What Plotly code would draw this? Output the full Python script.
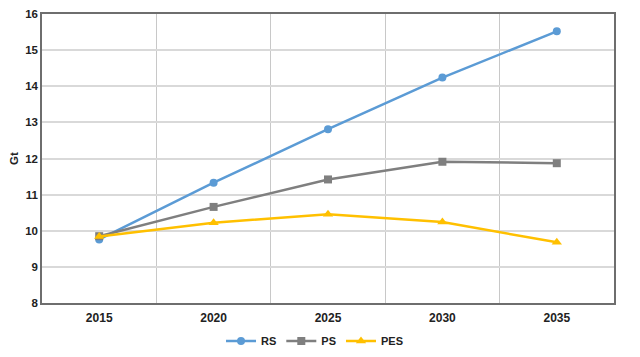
import plotly.graph_objects as go

years = ["2015", "2020", "2025", "2030", "2035"]
rs = [9.76, 11.33, 12.81, 14.24, 15.52]
ps = [9.85, 10.66, 11.42, 11.91, 11.87]
pes = [9.84, 10.22, 10.46, 10.24, 9.68]

fig = go.Figure()
fig.add_trace(go.Scatter(x=years, y=rs, name="<b>RS</b>", mode="lines+markers",
                         line=dict(color="#5B9BD5", width=2.5),
                         marker=dict(symbol="circle", size=8, color="#5B9BD5")))
fig.add_trace(go.Scatter(x=years, y=ps, name="<b>PS</b>", mode="lines+markers",
                         line=dict(color="#7F7F7F", width=2.5),
                         marker=dict(symbol="square", size=8, color="#7F7F7F")))
fig.add_trace(go.Scatter(x=years, y=pes, name="<b>PES</b>", mode="lines+markers",
                         line=dict(color="#FFC000", width=2.5),
                         marker=dict(symbol="triangle-up", size=9, color="#FFC000")))

fam = "Liberation Sans, Arial"
fig.update_layout(
    width=632, height=349,
    margin=dict(l=34, r=26, t=6, b=54),
    paper_bgcolor="white", plot_bgcolor="white",
    font=dict(family=fam, size=11, color="#222222"),
    showlegend=True,
    legend=dict(orientation="h", x=0.485, xref="container", xanchor="center",
                y=0.046, yref="container", yanchor="middle",
                font=dict(family=fam, size=11, color="#222222"),
                tracegroupgap=0, itemwidth=30),
    xaxis=dict(type="category", tickson="boundaries", showgrid=True,
               gridcolor="#C8C8C8", gridwidth=1, ticks="",
               showline=True, linecolor="#6E6E6E", linewidth=1.5, mirror=True,
               tickfont=dict(family=fam, size=12, color="#222222"),
               ticklabelstandoff=3, range=[-0.5, 4.5], automargin=False,
               tickprefix="<b>", ticksuffix="</b>"),
    yaxis=dict(range=[8, 16], dtick=1, showgrid=True, gridcolor="#D9D9D9", gridwidth=1.5,
               showline=True, linecolor="#6E6E6E", linewidth=1.5, mirror=True,
               ticks="", zeroline=False, automargin=False,
               tickfont=dict(family=fam, size=11.5, color="#222222"),
               tickprefix="<b>", ticksuffix="</b>",
               title=dict(text="<b>Gt</b>", font=dict(family=fam, size=11.5, color="#222222"),
                          standoff=6)),
)
fig.write_html("out.html")
